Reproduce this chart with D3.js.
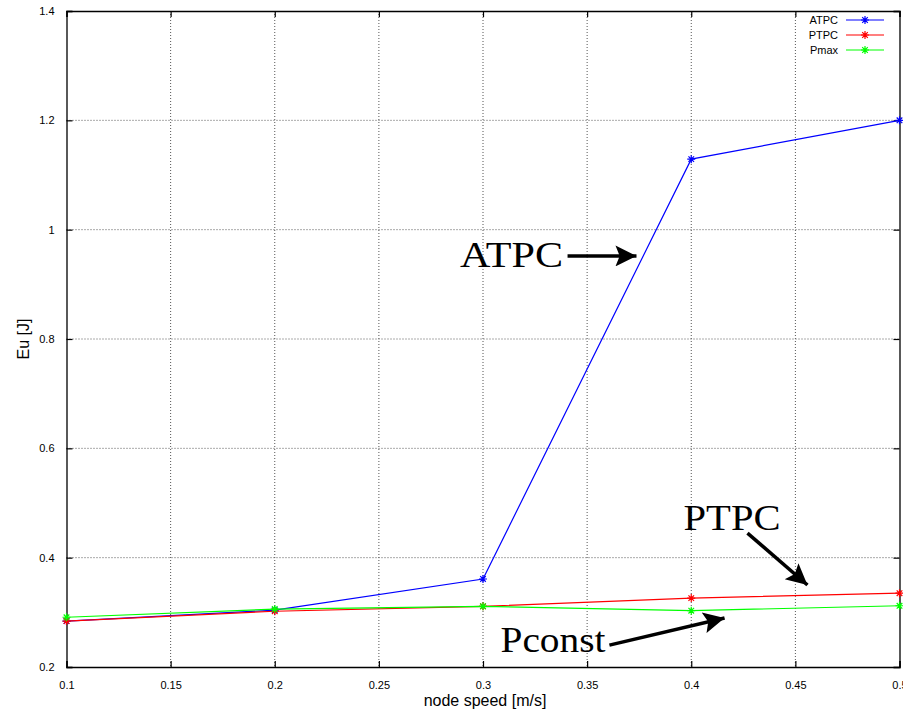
<!DOCTYPE html>
<html><head><meta charset="utf-8">
<script src="https://cdn.jsdelivr.net/npm/d3@7"></script>
<style>body{margin:0;background:#fff;} svg{display:block;}</style>
</head><body>
<svg id="c" width="903" height="713"></svg>
<script>
const speeds = [0.1, 0.2, 0.3, 0.4, 0.5];
const atpc  = [0.284, 0.304, 0.361, 1.129, 1.200];
const ptpc  = [0.284, 0.302, 0.311, 0.326, 0.335];
const pmax  = [0.291, 0.306, 0.311, 0.303, 0.312];
const seriesNames = ["ATPC", "PTPC", "Pmax"];
const seriesColors = ["#0000ff", "#ff0000", "#00ff00"];
const xTicks = [0.1, 0.15, 0.2, 0.25, 0.3, 0.35, 0.4, 0.45, 0.5];
const yTicks = [0.2, 0.4, 0.6, 0.8, 1, 1.2, 1.4];
// annotations in data units: label, text x, text y, arrow from, arrow to
const annLabels = ["ATPC", "PTPC", "Pconst"];
const annWidths = [103, 97, 105];
const annText = [[0.289, 0.932], [0.3963, 0.4506], [0.3084, 0.2274]];
const annFrom = [[0.3406, 0.952], [0.427, 0.445], [0.3607, 0.240]];
const annTo   = [[0.3737, 0.952], [0.4558, 0.350], [0.416, 0.2896]];

const svg = d3.select("#c");
const L = 66.5, R = 899.5, T = 11, B = 667;
const x = d3.scaleLinear().domain([0.1, 0.5]).range([L, R]);
const y = d3.scaleLinear().domain([0.2, 1.4]).range([B, T]);

// grid
const g = svg.append("g");
g.selectAll(".gx").data(xTicks.slice(1, -1)).enter().append("line")
  .attr("x1", d => x(d)).attr("x2", d => x(d)).attr("y1", T).attr("y2", B)
  .attr("stroke", "#555").attr("stroke-width", 1).attr("stroke-dasharray", "1,2");
g.selectAll(".gy").data(yTicks.slice(1, -1)).enter().append("line")
  .attr("y1", d => y(d)).attr("y2", d => y(d)).attr("x1", L).attr("x2", R)
  .attr("stroke", "#555").attr("stroke-width", 1).attr("stroke-dasharray", "1,2");

// axes
const fmt = d => String(d);
svg.append("g").attr("transform", `translate(0,${B})`)
  .call(d3.axisBottom(x).tickValues(xTicks).tickFormat(fmt).tickSize(-6).tickPadding(14));
svg.append("g").attr("transform", `translate(${L},0)`)
  .call(d3.axisLeft(y).tickValues(yTicks).tickFormat(fmt).tickSize(-6).tickPadding(12));
svg.append("g").attr("transform", `translate(0,${T})`)
  .call(d3.axisTop(x).tickValues(xTicks).tickFormat("").tickSize(-6));
svg.append("g").attr("transform", `translate(${R},0)`)
  .call(d3.axisRight(y).tickValues(yTicks).tickFormat("").tickSize(-6));
svg.selectAll(".domain").attr("stroke", "#000").attr("stroke-width", 1.3);
svg.selectAll(".tick line").attr("stroke", "#000").attr("stroke-width", 1.2);
svg.selectAll(".tick text").attr("font-family", "Liberation Sans, Arial, sans-serif")
  .attr("font-size", 11).attr("fill", "#000");

// axis titles
svg.append("text").attr("x", (L + R) / 2 + 2).attr("y", 706).attr("text-anchor", "middle")
  .attr("font-family", "Liberation Sans, Arial, sans-serif").attr("font-size", 16).text("node speed [m/s]");
svg.append("text").attr("transform", `translate(29,${(T + B) / 2}) rotate(-90)`).attr("text-anchor", "middle")
  .attr("font-family", "Liberation Sans, Arial, sans-serif").attr("font-size", 16).text("Eu [J]");

// series
const allSeries = [atpc, ptpc, pmax];
const line = d3.line().x((d, i) => x(speeds[i])).y(d => y(d));
const star = (s) => `M${-s},0H${s}M0,${-s}V${s}M${-s*0.7},${-s*0.7}L${s*0.7},${s*0.7}M${-s*0.7},${s*0.7}L${s*0.7},${-s*0.7}`;
allSeries.forEach((vals, k) => {
  svg.append("path").datum(vals).attr("d", line).attr("fill", "none")
    .attr("stroke", seriesColors[k]).attr("stroke-width", 1.2);
  svg.selectAll(".m" + k).data(vals).enter().append("path")
    .attr("transform", (d, i) => `translate(${x(speeds[i])},${y(d)})`)
    .attr("d", star(4)).attr("stroke", seriesColors[k]).attr("stroke-width", 1.2).attr("fill", "none");
});

// legend
const lg = svg.append("g");
seriesNames.forEach((n, k) => {
  const ly = 20 + k * 15;
  lg.append("text").attr("x", 838).attr("y", ly + 4).attr("text-anchor", "end")
    .attr("font-family", "Liberation Sans, Arial, sans-serif").attr("font-size", 11).text(n);
  lg.append("line").attr("x1", 846).attr("x2", 884).attr("y1", ly).attr("y2", ly)
    .attr("stroke", seriesColors[k]).attr("stroke-width", 1.2);
  lg.append("path").attr("transform", `translate(865,${ly})`).attr("d", star(4))
    .attr("stroke", seriesColors[k]).attr("stroke-width", 1.2).attr("fill", "none");
});

// annotations
svg.append("defs").append("marker").attr("id", "ah").attr("viewBox", "0 0 10 10")
  .attr("refX", 10).attr("refY", 5).attr("markerWidth", 7).attr("markerHeight", 6)
  .attr("markerUnits", "strokeWidth").attr("orient", "auto")
  .append("path").attr("d", "M0,0L10,5L0,10L2,5Z").attr("fill", "#000");
annLabels.forEach((t, k) => {
  svg.append("text").attr("x", x(annText[k][0])).attr("y", y(annText[k][1]))
    .attr("font-family", "Liberation Serif, Times New Roman, serif").attr("font-size", 36)
    .attr("textLength", annWidths[k]).attr("lengthAdjust", "spacingAndGlyphs").text(t);
  svg.append("line").attr("x1", x(annFrom[k][0])).attr("y1", y(annFrom[k][1]))
    .attr("x2", x(annTo[k][0])).attr("y2", y(annTo[k][1]))
    .attr("stroke", "#000").attr("stroke-width", 3.5).attr("marker-end", "url(#ah)");
});
</script>
</body></html>
